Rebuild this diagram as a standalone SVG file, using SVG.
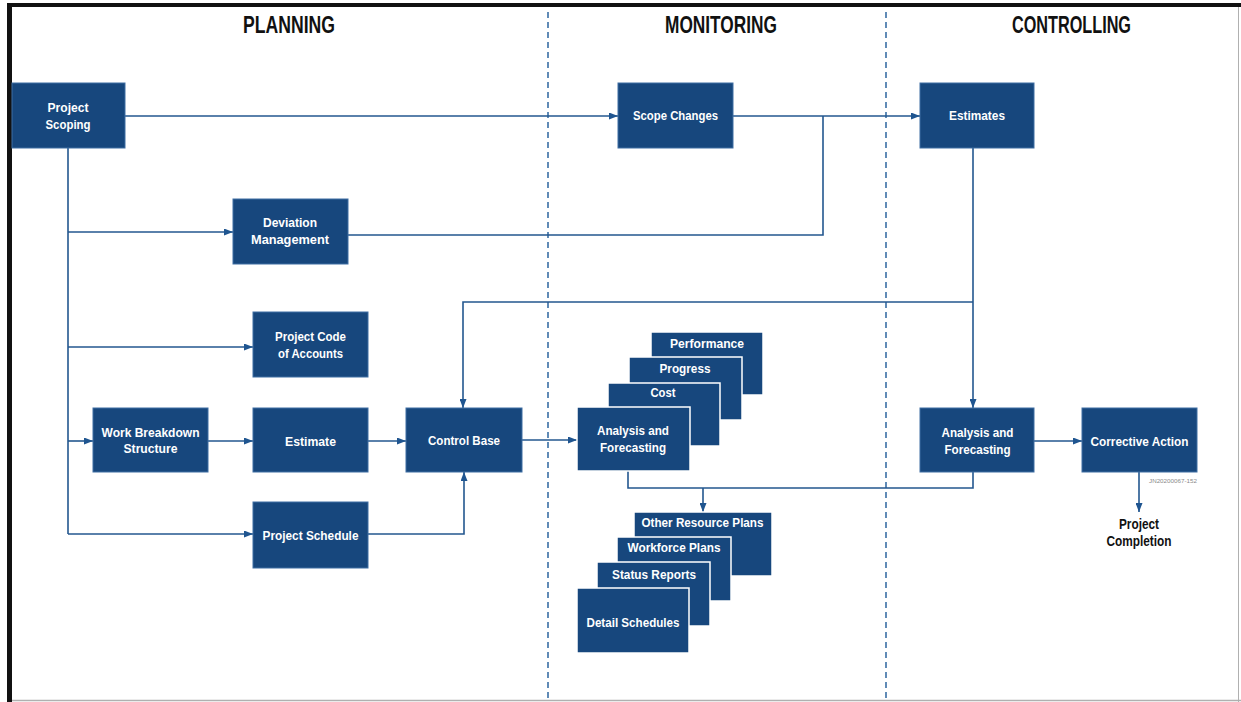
<svg xmlns="http://www.w3.org/2000/svg" width="1241" height="702" viewBox="0 0 1241 702">
<defs>
<marker id="ah" viewBox="0 0 9 7" refX="9" refY="3.5" markerWidth="9" markerHeight="7" markerUnits="userSpaceOnUse" orient="auto">
<path d="M0,0 L9,3.5 L0,7 z" fill="#1f5590"/>
</marker>
<style>
.box{fill:#17477d;stroke:#3f6ea3;stroke-width:1}
.stk{fill:#17477d;stroke:#ffffff;stroke-width:1.5}
.t{font-family:"Liberation Sans Narrow","Liberation Sans",Arial,sans-serif;font-weight:bold;font-size:13.5px;fill:#ffffff;text-anchor:middle}
.h{font-family:"Liberation Sans Narrow","Liberation Sans",Arial,sans-serif;font-weight:bold;font-size:23px;fill:#111111;text-anchor:middle}
.k{font-family:"Liberation Sans Narrow","Liberation Sans",Arial,sans-serif;font-weight:bold;font-size:14px;fill:#111111;text-anchor:middle}
.c{fill:none;stroke:#23578f;stroke-width:1.6}
.ca{fill:none;stroke:#23578f;stroke-width:1.6;marker-end:url(#ah)}
.d{stroke:#3a6fa5;stroke-width:1.6;stroke-dasharray:6,4}
</style>
</defs>
<rect x="0" y="0" width="1241" height="702" fill="#ffffff"/>
<g id="frame">
<rect x="7" y="3" width="1234" height="4" fill="#111111"/>
<rect x="7" y="3" width="5" height="699" fill="#111111"/>
<line x1="1238.5" y1="7" x2="1238.5" y2="702" stroke="#b0b0b0" stroke-width="1"/>
<line x1="12" y1="700.5" x2="1241" y2="700.5" stroke="#b0b0b0" stroke-width="1.5"/>
</g>
<g id="dividers">
<line class="d" x1="548" y1="12" x2="548" y2="702"/>
<line class="d" x1="886" y1="12" x2="886" y2="702"/>
</g>
<g id="headers">
<text class="h" x="289" y="33" textLength="92" lengthAdjust="spacingAndGlyphs">PLANNING</text>
<text class="h" x="721" y="33" textLength="112" lengthAdjust="spacingAndGlyphs">MONITORING</text>
<text class="h" x="1071.5" y="33" textLength="119" lengthAdjust="spacingAndGlyphs">CONTROLLING</text>
</g>
<g id="connectors">
<path class="c" d="M68,148 V534"/>
<path class="ca" d="M68,232 H233"/>
<path class="ca" d="M68,347 H253"/>
<path class="ca" d="M68,441 H93"/>
<path class="ca" d="M68,534 H253"/>
<path class="ca" d="M125,116 H618"/>
<path class="ca" d="M733,116 H920"/>
<path class="c" d="M348,235 H823 V116"/>
<path class="ca" d="M208,441 H253"/>
<path class="ca" d="M368,441 H406"/>
<path class="ca" d="M368,534 H464 V472"/>
<path class="ca" d="M522,440 H577"/>
<path class="ca" d="M973,148 V408"/>
<path class="ca" d="M973,302 H463 V408"/>
<path class="c" d="M628,471 V488 H973 V472"/>
<path class="ca" d="M703,488 V512"/>
<path class="ca" d="M1034,441 H1082"/>
<path class="ca" d="M1139,472 V512"/>
</g>
<g id="project-scoping">
<rect class="box" x="12" y="83" width="113" height="65"/>
<text class="t" x="68" y="112" textLength="41" lengthAdjust="spacingAndGlyphs">Project</text>
<text class="t" x="68" y="129" textLength="45" lengthAdjust="spacingAndGlyphs">Scoping</text>
</g>
<g id="deviation-management">
<rect class="box" x="233" y="199" width="115" height="65"/>
<text class="t" x="290" y="227" textLength="54" lengthAdjust="spacingAndGlyphs">Deviation</text>
<text class="t" x="290" y="244" textLength="78" lengthAdjust="spacingAndGlyphs">Management</text>
</g>
<g id="project-code-of-accounts">
<rect class="box" x="253" y="312" width="115" height="65"/>
<text class="t" x="310.5" y="341" textLength="71" lengthAdjust="spacingAndGlyphs">Project Code</text>
<text class="t" x="310.5" y="358" textLength="65" lengthAdjust="spacingAndGlyphs">of Accounts</text>
</g>
<g id="work-breakdown-structure">
<rect class="box" x="93" y="408" width="115" height="64"/>
<text class="t" x="150.5" y="437" textLength="98" lengthAdjust="spacingAndGlyphs">Work Breakdown</text>
<text class="t" x="150.5" y="453" textLength="54" lengthAdjust="spacingAndGlyphs">Structure</text>
</g>
<g id="estimate">
<rect class="box" x="253" y="408" width="115" height="64"/>
<text class="t" x="310.5" y="446" textLength="51" lengthAdjust="spacingAndGlyphs">Estimate</text>
</g>
<g id="project-schedule">
<rect class="box" x="253" y="502" width="115" height="66"/>
<text class="t" x="310.5" y="540" textLength="96" lengthAdjust="spacingAndGlyphs">Project Schedule</text>
</g>
<g id="control-base">
<rect class="box" x="406" y="408" width="116" height="64"/>
<text class="t" x="464" y="445" textLength="72" lengthAdjust="spacingAndGlyphs">Control Base</text>
</g>
<g id="scope-changes">
<rect class="box" x="618" y="83" width="115" height="65"/>
<text class="t" x="675.5" y="120" textLength="85" lengthAdjust="spacingAndGlyphs">Scope Changes</text>
</g>
<g id="estimates">
<rect class="box" x="920" y="83" width="114" height="65"/>
<text class="t" x="977" y="120" textLength="56" lengthAdjust="spacingAndGlyphs">Estimates</text>
</g>
<g id="performance">
<rect class="stk" x="651" y="332" width="112" height="63"/>
<text class="t" x="707" y="348" textLength="74" lengthAdjust="spacingAndGlyphs">Performance</text>
</g>
<g id="progress">
<rect class="stk" x="629" y="357" width="113" height="63"/>
<text class="t" x="685" y="373" textLength="51" lengthAdjust="spacingAndGlyphs">Progress</text>
</g>
<g id="cost">
<rect class="stk" x="608" y="383" width="112" height="63"/>
<text class="t" x="663" y="397" textLength="25" lengthAdjust="spacingAndGlyphs">Cost</text>
</g>
<g id="analysis-forecasting-monitoring">
<rect class="stk" x="577" y="407" width="113" height="64"/>
<text class="t" x="633" y="435" textLength="72" lengthAdjust="spacingAndGlyphs">Analysis and</text>
<text class="t" x="633" y="452" textLength="66" lengthAdjust="spacingAndGlyphs">Forecasting</text>
</g>
<g id="other-resource-plans">
<rect class="stk" x="634" y="512" width="138" height="64"/>
<text class="t" x="702.5" y="527" textLength="122" lengthAdjust="spacingAndGlyphs">Other Resource Plans</text>
</g>
<g id="workforce-plans">
<rect class="stk" x="617" y="537" width="114" height="64"/>
<text class="t" x="674" y="552" textLength="93" lengthAdjust="spacingAndGlyphs">Workforce Plans</text>
</g>
<g id="status-reports">
<rect class="stk" x="597" y="562" width="113" height="64"/>
<text class="t" x="654" y="579" textLength="84" lengthAdjust="spacingAndGlyphs">Status Reports</text>
</g>
<g id="detail-schedules">
<rect class="stk" x="577" y="588" width="112" height="65"/>
<text class="t" x="633" y="627" textLength="93" lengthAdjust="spacingAndGlyphs">Detail Schedules</text>
</g>
<g id="analysis-forecasting-controlling">
<rect class="box" x="920" y="408" width="114" height="64"/>
<text class="t" x="977.5" y="437" textLength="72" lengthAdjust="spacingAndGlyphs">Analysis and</text>
<text class="t" x="977.5" y="454" textLength="66" lengthAdjust="spacingAndGlyphs">Forecasting</text>
</g>
<g id="corrective-action">
<rect class="box" x="1082" y="408" width="115" height="64"/>
<text class="t" x="1139.5" y="446" textLength="98" lengthAdjust="spacingAndGlyphs">Corrective Action</text>
<text x="1197" y="483" font-family="Liberation Sans Narrow, Liberation Sans, Arial, sans-serif" font-size="6" fill="#8a8a8a" text-anchor="end" textLength="48" lengthAdjust="spacingAndGlyphs">JN20200067-152</text>
</g>
<g id="project-completion">
<text class="k" x="1139" y="529" textLength="40" lengthAdjust="spacingAndGlyphs">Project</text>
<text class="k" x="1139" y="546" textLength="65" lengthAdjust="spacingAndGlyphs">Completion</text>
</g>
</svg>
